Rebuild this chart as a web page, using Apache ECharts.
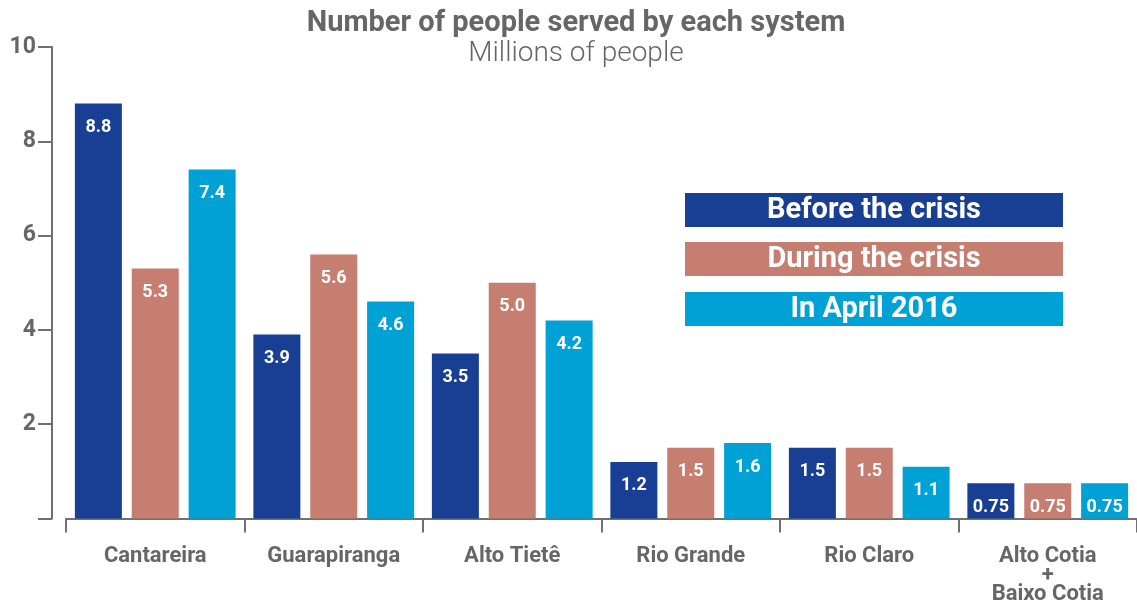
<!DOCTYPE html>
<html>
<head>
<meta charset="utf-8">
<script src="https://cdn.jsdelivr.net/npm/echarts@6/dist/echarts.min.js"></script>
<style>html,body{margin:0;padding:0;background:#fff}#c{width:1137px;height:605px}</style>
</head>
<body>
<div id="c"></div>
<script>
const categories = ['Cantareira', 'Guarapiranga', 'Alto Tietê', 'Rio Grande', 'Rio Claro', 'Alto Cotia\n+\nBaixo Cotia'];
const seriesNames = ['Before the crisis', 'During the crisis', 'In April 2016'];
const beforeCrisis = [8.8, 3.9, 3.5, 1.2, 1.5, 0.75];
const duringCrisis = [5.3, 5.6, 5.0, 1.5, 1.5, 0.75];
const april2016 = [7.4, 4.6, 4.2, 1.6, 1.1, 0.75];
const yTicks = [0, 2, 4, 6, 8, 10];

const colors = ['#183F93', '#C67E71', '#00A1D5'];
const gray = '#666666';
const axisGray = '#707070';
const fontFam = 'Roboto, "Liberation Sans", sans-serif';

const fmt = v => (Math.round(v * 10) === v * 10 ? v.toFixed(1) : String(v));

const chart = echarts.init(document.getElementById('c'), null, {renderer: 'canvas'});

const seriesData = [beforeCrisis, duringCrisis, april2016];
const series = seriesData.map((d, i) => ({
  name: seriesNames[i],
  type: 'bar',
  data: d,
  barWidth: 47,
  barGap: '21%',
  itemStyle: {color: colors[i]},
  label: {
    show: true,
    position: 'insideTop',
    distance: 15,
    color: '#fff',
    fontWeight: 'bold',
    fontSize: 18,
    fontFamily: fontFam,
    formatter: p => fmt(p.value)
  }
}));

const legendTops = [193, 242, 292];
const graphic = [];
seriesNames.forEach((n, i) => {
  graphic.push({
    type: 'rect', left: 685, top: legendTops[i],
    shape: {width: 378, height: 34},
    style: {fill: colors[i]}
  });
  graphic.push({
    type: 'text', x: 874, y: legendTops[i] + 18,
    style: {text: n, fill: '#fff', font: 'bold 29px ' + fontFam, textAlign: 'center', textVerticalAlign: 'middle'}
  });
});

chart.setOption({
  animation: false,
  backgroundColor: '#fff',
  title: {
    text: 'Number of people served by each system',
    subtext: 'Millions of people',
    left: 576,
    textAlign: 'center',
    top: 9,
    padding: 0,
    itemGap: 2,
    textStyle: {color: gray, fontSize: 29, fontWeight: 'bold', fontFamily: fontFam},
    subtextStyle: {color: gray, fontSize: 28, fontWeight: 300, fontFamily: fontFam}
  },
  legend: {show: false},
  grid: {left: 66, top: 47, width: 1079, height: 473, containLabel: false},
  xAxis: {
    type: 'category',
    data: categories,
    offset: 13,
    axisLine: {lineStyle: {color: axisGray, width: 2}},
    axisTick: {show: true, length: 14, lineStyle: {color: axisGray, width: 2}},
    axisLabel: {margin: 15, color: gray, fontSize: 22, fontWeight: 'bold', fontFamily: fontFam, lineHeight: 19, interval: 0}
  },
  yAxis: {
    type: 'value',
    min: yTicks[0],
    max: yTicks[yTicks.length - 1],
    interval: 2,
    offset: 14,
    axisLine: {show: true, lineStyle: {color: axisGray, width: 2}},
    axisTick: {show: true, length: 14, lineStyle: {color: axisGray, width: 2}},
    splitLine: {show: false},
    axisLabel: {margin: 16, color: gray, fontSize: 23, fontWeight: 'bold', fontFamily: fontFam, formatter: v => (v === 0 ? '' : String(v))}
  },
  graphic: graphic,
  series: series
});
</script>
</body>
</html>
